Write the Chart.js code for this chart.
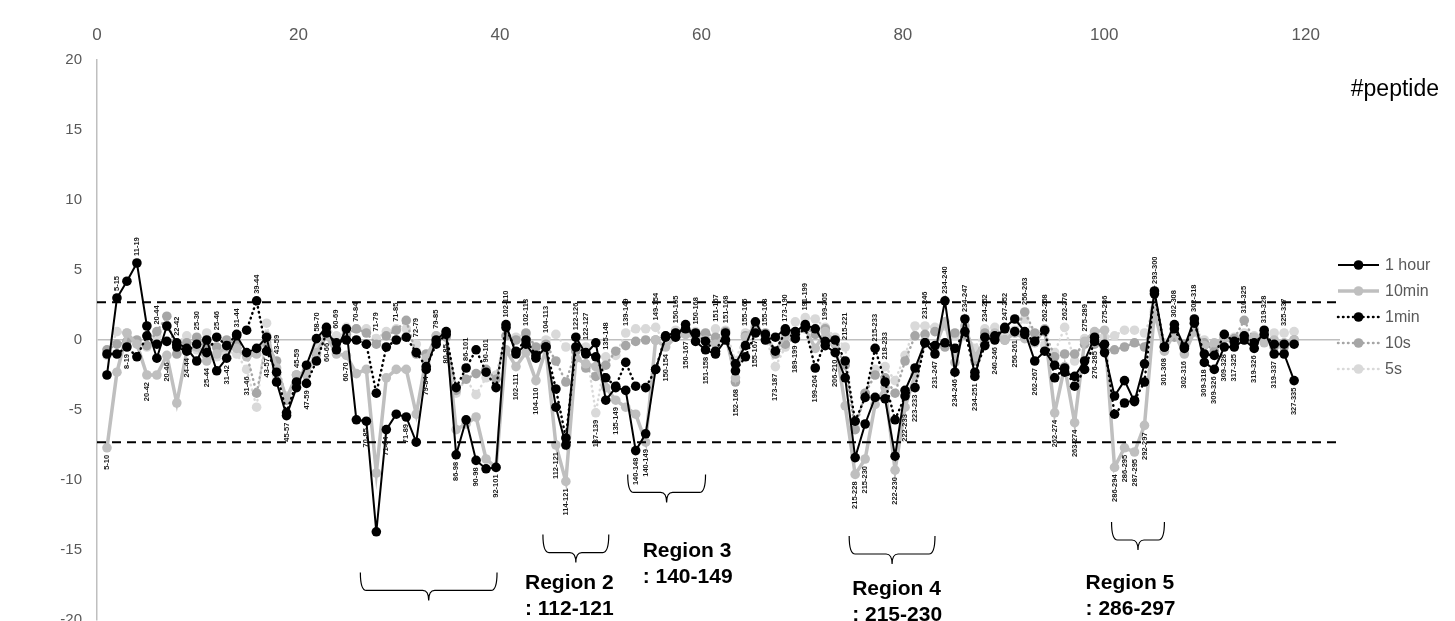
<!DOCTYPE html>
<html>
<head>
<meta charset="utf-8">
<script src="https://cdn.jsdelivr.net/npm/chart.js@4.4.0/dist/chart.umd.min.js"></script>
<style>
  html, body { margin: 0; padding: 0; background: #fff; overflow: hidden; }
  #wrap { width: 1455px; height: 621px; overflow: hidden; }
</style>
</head>
<body>
<div id="wrap"><canvas id="chart" width="1455" height="644"></canvas></div>
<script>
// peptide for each position along the sequence
const peptides = [
  '5-10','5-15','8-19','11-19','20-42','20-44','20-46','22-42','24-44','25-30',
  '25-44','25-46','31-42','31-44','31-46','39-44','43-57','43-59','45-57','45-59',
  '47-59','58-70','60-66','60-69','60-70','70-84','70-85','71-79','71-84','71-85',
  '71-89','72-79','79-84','79-85','80-85','86-98','86-101','90-98','90-101','92-101',
  '102-110','102-111','102-113','104-110','104-113','112-121','114-121','122-126','122-127','137-139',
  '135-148','135-149','139-149','140-148','140-149','149-154','150-154','150-165','150-167','150-168',
  '151-158','151-167','151-168','152-168','155-165','155-167','155-168','173-187','173-190','189-199',
  '191-199','199-204','199-205','206-210','215-221','215-228','215-230','215-233','218-233','222-230',
  '222-233','223-233','231-246','231-247','234-240','234-246','234-247','234-251','234-252','240-246',
  '247-252','256-261','256-263','262-267','262-268','262-274','262-276','263-274','275-289','276-285',
  '275-286','286-294','286-295','287-295','292-297','293-300','301-308','302-308','302-316','302-318',
  '309-318','309-326','309-328','317-325','310-325','319-326','319-328','319-337','325-337','327-335'
];
// a = label above the points, b = below
const labelSide =
  'bababababa' + 'bababababa' + 'bababababa' + 'bababbabab' + 'abababbaab' +
  'ababbababa' + 'baabababab' + 'abababbaab' + 'bbabababab' + 'ababababab' +
  'abbbbababa' + 'bbbbababab';

const hour1 = [
  -2.5,3.0,4.2,5.5,1.0,-1.3,1.0,-0.2,-0.6,-1.5,
  0.0,-2.2,-1.3,0.3,-0.9,-0.6,0.2,-3.0,-5.4,-3.4,
  -1.8,0.1,0.9,-0.7,0.8,-5.7,-5.8,-13.7,-6.4,-5.3,
  -5.5,-7.3,-2.1,0.0,0.6,-8.2,-5.7,-8.6,-9.2,-9.1,
  1.1,-1.0,-0.3,-1.3,-0.5,-4.8,-7.5,0.2,-1.0,-0.2,
  -4.3,-3.4,-3.6,-7.9,-6.7,-2.1,0.2,0.2,1.1,-0.1,
  -0.7,-1.0,0.0,-1.7,-0.4,1.3,0.0,0.2,0.8,0.6,
  1.1,0.8,-0.4,-0.9,-2.7,-8.4,-6.0,-4.1,-4.2,-8.3,
  -3.6,-2.0,-0.2,-1.0,2.8,-2.3,1.5,-2.6,0.2,0.0,
  0.9,1.5,0.6,-1.5,-0.8,-1.8,-2.3,-2.6,-1.5,0.2,
  -0.9,-4.0,-2.9,-4.4,-1.7,3.5,-0.5,1.1,-0.5,1.5,
  -1.6,-2.1,-0.5,-0.5,0.0,-0.6,0.7,-1.0,-1.0,-2.9
];
const min10 = [
  -7.7,-2.3,0.5,-0.3,-2.5,-2.5,-1.1,-4.5,-0.8,-0.5,
  -1.5,-1.0,-0.5,-0.6,-1.2,-1.0,0.3,-2.0,-4.2,-2.5,
  -2.5,-0.9,0.3,-1.0,-1.1,-2.4,-2.1,-9.5,-2.7,-2.1,
  -2.1,-5.3,-1.3,0.3,0.4,-6.4,-6.0,-5.5,-8.5,-9.1,
  -0.7,-1.9,-0.9,-2.9,-0.7,-7.5,-10.1,-1.3,-1.7,-1.9,
  -3.4,-4.3,-4.8,-5.3,-7.3,0.0,-0.5,0.2,0.4,0.2,
  0.0,-0.3,0.4,-2.7,0.2,1.0,0.3,-0.8,0.3,0.5,
  0.8,-0.6,0.6,-0.2,-4.7,-9.6,-8.5,-4.6,-3.4,-9.3,
  -4.8,-2.5,-0.1,-0.5,1.3,-1.6,1.0,-1.2,-0.1,0.5,
  0.0,0.5,0.1,-0.2,0.8,-5.2,-1.9,-5.9,-0.1,0.6,
  0.7,-9.1,-7.7,-8.0,-6.1,2.0,-0.8,0.5,-1.0,0.6,
  -0.4,-0.2,0.1,-0.2,0.3,0.2,-0.2,0.0,-0.2,0.0
];
const min1 = [
  -1.0,-1.0,-0.5,-1.2,0.3,-0.3,-0.1,-0.5,-0.8,-0.3,
  -0.9,0.2,-0.4,0.4,0.7,2.8,-0.8,-2.3,-5.2,-3.0,
  -3.1,-1.5,0.5,-0.2,0.0,0.0,-0.3,-3.8,-0.5,0.0,
  0.2,-0.9,-1.9,-0.3,0.4,-3.4,-2.0,-0.7,-2.3,-3.4,
  0.9,-0.8,0.0,-1.1,-0.5,-3.5,-7.0,-0.5,-0.9,-1.2,
  -2.7,-3.3,-1.6,-3.3,-3.4,-2.1,0.3,0.5,0.8,0.5,
  -0.1,-0.8,0.5,-2.2,-1.2,0.5,0.4,-0.8,0.6,0.1,
  0.9,-2.0,-0.1,0.0,-1.5,-5.8,-4.1,-0.6,-3.0,-5.7,
  -4.0,-3.4,-0.2,-0.4,-0.2,-0.6,0.6,-2.3,-0.4,0.3,
  0.8,0.6,0.4,-0.1,0.7,-2.7,-2.0,-3.3,-2.1,-0.1,
  -0.3,-5.3,-4.5,-4.3,-3.0,3.3,-0.5,0.8,-0.6,1.2,
  -1.0,-1.1,0.4,-0.1,0.3,-0.2,0.4,-0.3,-0.3,-0.3
];
const sec10 = [
  -0.7,-0.3,-0.1,0.0,-0.4,0.6,1.7,-1.0,-0.2,0.2,
  -0.3,-0.5,0.0,-0.3,-1.0,-3.8,-0.2,-1.5,-4.3,-2.5,
  -2.2,-1.0,0.6,-0.5,0.4,0.8,0.5,-0.3,0.3,0.7,
  1.4,-1.0,-1.0,-0.1,0.2,-3.6,-2.8,-2.4,-2.1,-2.8,
  0.3,0.0,0.5,-0.5,-0.3,-1.5,-3.0,-0.8,-2.0,-2.6,
  -1.8,-0.8,-0.4,-0.1,0.0,0.0,0.3,0.5,0.5,0.3,
  0.5,0.2,0.6,-3.0,0.3,0.9,0.5,-1.0,-0.3,0.2,
  0.9,0.4,0.8,-0.3,-1.8,-6.4,-3.8,-2.5,-2.7,-3.8,
  -1.5,0.3,0.4,0.6,-0.5,0.5,0.4,-1.5,0.5,0.3,
  0.0,0.6,2.0,0.5,0.6,-1.2,-1.0,-1.0,-0.3,-0.3,
  -0.7,-0.7,-0.5,-0.2,-0.5,1.8,-0.4,0.2,-0.3,0.6,
  -0.2,-0.8,0.2,0.1,1.4,0.0,0.3,-0.5,-0.5,0.0
];
const sec5 = [
  -1.1,0.6,0.5,-0.2,-0.5,0.3,1.0,-0.2,0.3,-0.7,
  0.5,-1.2,-0.8,-1.0,-2.1,-4.8,1.2,-2.5,-4.0,-3.2,
  -2.3,-0.5,0.9,0.3,0.9,0.8,0.8,0.1,0.6,0.8,
  0.8,-0.3,-1.5,0.3,0.6,-3.8,-2.8,-3.9,-2.7,-2.5,
  0.3,0.2,0.4,-0.6,0.0,0.4,-0.5,-0.8,-0.5,-5.2,
  -1.2,-1.1,0.5,0.8,0.8,0.9,-0.3,0.7,0.4,0.6,
  0.1,0.8,0.7,-1.5,0.5,0.6,0.3,-1.9,-0.5,1.3,
  1.6,1.5,0.9,0.2,-0.5,-6.3,-3.8,-2.1,-1.9,-2.9,
  -1.1,1.0,1.0,0.9,1.0,0.3,0.7,-0.6,0.8,0.9,
  0.4,0.7,1.5,0.4,-0.4,-0.9,0.9,-1.5,0.1,0.5,
  0.2,0.3,0.7,0.7,0.5,2.2,-0.2,0.5,-0.6,0.8,
  0.0,-0.5,0.4,0.2,0.5,0.3,0.2,0.5,0.5,0.6
];
// cut-off lines
const thresholds = [2.7, -7.3];

const FONT = '"Liberation Sans", Arial, sans-serif';
const X_MAX = 124.6;   // data axis (one unit per peptide)
const X_TOP_MAX = 123.4;

// bracket + text for each region (data units)
const brackets = [
  { from: 26.4, to: 40.1, top: -16.6 },
  { from: 44.7, to: 51.3, top: -13.9 },
  { from: 53.2, to: 61.0, top: -9.6 },
  { from: 75.4, to: 84.0, top: -14.0 },
  { from: 101.7, to: 107.0, top: -13.0 }
];
const regionText = [
  { x: 42.9, y: -17.4, lines: ['Region 2', ': 112-121'] },
  { x: 54.7, y: -15.1, lines: ['Region 3', ': 140-149'] },
  { x: 75.7, y: -17.8, lines: ['Region 4', ': 215-230'] },
  { x: 99.1, y: -17.4, lines: ['Region 5', ': 286-297'] }
];

function toPoints(arr) {
  return arr.map((v, i) => ({ x: i + 1, y: v }));
}

const seriesDefs = [
  { label: '1 hour', data: hour1, color: '#000000', width: 2, dash: [], order: 1 },
  { label: '10min', data: min10, color: '#bfbfbf', width: 3.5, dash: [], order: 3 },
  { label: '1min', data: min1, color: '#000000', width: 2.5, dash: [0.5, 4.5], order: 2 },
  { label: '10s', data: sec10, color: '#a6a6a6', width: 2.5, dash: [0.5, 4.5], order: 4 },
  { label: '5s', data: sec5, color: '#d9d9d9', width: 2.5, dash: [0.5, 4.5], order: 5 }
];

const datasets = seriesDefs.map(s => ({
  label: s.label,
  data: toPoints(s.data),
  borderColor: s.color,
  backgroundColor: s.color,
  borderWidth: s.width,
  borderDash: s.dash,
  borderCapStyle: s.dash.length ? 'round' : 'butt',
  pointRadius: 4.8,
  pointBorderWidth: 0,
  pointBackgroundColor: s.color,
  tension: 0,
  order: s.order
}));

thresholds.forEach(t => {
  datasets.push({
    label: 'cut ' + t,
    data: [{ x: 0, y: t }, { x: X_MAX, y: t }],
    borderColor: '#000000',
    borderWidth: 2,
    borderDash: [9, 6],
    pointRadius: 0,
    order: 0
  });
});

// rotated peptide labels above / below each position
const peptideLabels = {
  id: 'peptideLabels',
  afterDatasetsDraw(chart) {
    const ctx = chart.ctx;
    const xs = chart.scales.x, ys = chart.scales.y;
    ctx.save();
    ctx.font = 'bold 7.5px ' + FONT;
    ctx.fillStyle = '#1a1a1a';
    ctx.textBaseline = 'middle';
    peptides.forEach((p, i) => {
      const vals = seriesDefs.map(s => s.data[i]);
      const px = xs.getPixelForValue(i + 1);
      ctx.save();
      if (labelSide[i] === 'a') {
        const py = ys.getPixelForValue(Math.max(...vals)) - 7;
        ctx.translate(px, py);
        ctx.rotate(-Math.PI / 2);
        ctx.textAlign = 'left';
      } else {
        const py = ys.getPixelForValue(Math.min(...vals)) + 7;
        ctx.translate(px, py);
        ctx.rotate(-Math.PI / 2);
        ctx.textAlign = 'right';
      }
      ctx.fillText(p, 0, 0);
      ctx.restore();
    });
    ctx.restore();
  }
};

// brackets, region text, legend and "#peptide"
const extras = {
  id: 'extras',
  afterDraw(chart) {
    const ctx = chart.ctx;
    const xs = chart.scales.x, ys = chart.scales.y;
    const area = chart.chartArea;
    ctx.save();

    ctx.strokeStyle = '#000';
    ctx.lineWidth = 1.2;
    brackets.forEach(b => {
      const x0 = xs.getPixelForValue(b.from), x1 = xs.getPixelForValue(b.to);
      const top = ys.getPixelForValue(b.top);
      const bar = top + 18, tip = bar + 10, mid = (x0 + x1) / 2, r = 6;
      ctx.beginPath();
      ctx.moveTo(x0, top);
      ctx.quadraticCurveTo(x0, bar, x0 + r, bar);
      ctx.lineTo(mid - r, bar);
      ctx.quadraticCurveTo(mid, bar, mid, tip);
      ctx.quadraticCurveTo(mid, bar, mid + r, bar);
      ctx.lineTo(x1 - r, bar);
      ctx.quadraticCurveTo(x1, bar, x1, top);
      ctx.stroke();
    });

    ctx.fillStyle = '#000';
    ctx.font = 'bold 21px ' + FONT;
    ctx.textAlign = 'left';
    ctx.textBaseline = 'middle';
    regionText.forEach(t => {
      const x = xs.getPixelForValue(t.x), y = ys.getPixelForValue(t.y);
      ctx.fillText(t.lines[0], x, y);
      ctx.fillText(t.lines[1], x, y + 26);
    });

    // legend
    const lx = area.right - 2;
    let ly = 265;
    seriesDefs.forEach(s => {
      ctx.beginPath();
      ctx.strokeStyle = s.color;
      ctx.lineWidth = s.width;
      ctx.setLineDash(s.dash);
      ctx.lineCap = s.dash.length ? 'round' : 'butt';
      ctx.moveTo(lx, ly);
      ctx.lineTo(lx + 41, ly);
      ctx.stroke();
      ctx.setLineDash([]);
      ctx.beginPath();
      ctx.fillStyle = s.color;
      ctx.arc(lx + 20.5, ly, 4.8, 0, Math.PI * 2);
      ctx.fill();
      ctx.fillStyle = '#595959';
      ctx.font = '16px ' + FONT;
      ctx.fillText(s.label, lx + 47, ly + 1);
      ly += 26;
    });

    ctx.fillStyle = '#000';
    ctx.font = '23px ' + FONT;
    ctx.textAlign = 'right';
    ctx.fillText('#peptide', 1439, 90);
    ctx.restore();
  }
};

new Chart(document.getElementById('chart'), {
  type: 'line',
  data: { datasets: datasets },
  options: {
    responsive: false,
    animation: false,
    devicePixelRatio: 1,
    layout: { padding: { left: 0, right: 115, top: 0, bottom: 2 } },
    plugins: { legend: { display: false }, tooltip: { enabled: false } },
    scales: {
      x: { type: 'linear', display: false, min: 0, max: X_MAX },
      xTop: {
        type: 'linear', position: 'top', min: 0, max: X_TOP_MAX,
        grid: { display: false, drawTicks: false },
        border: { display: false },
        ticks: { stepSize: 20, includeBounds: false, padding: 14, color: '#595959', font: { family: FONT, size: 17 } },
        afterFit: s => { s.height = 60; }
      },
      y: {
        min: -20, max: 20,
        ticks: { stepSize: 5, padding: 15, color: '#595959', font: { family: FONT, size: 15 } },
        grid: {
          drawTicks: false,
          color: c => (c.tick && c.tick.value === 0 ? '#bfbfbf' : 'rgba(0,0,0,0)'),
          lineWidth: 1.5
        },
        border: { display: true, color: '#bfbfbf', width: 1.5 },
        afterFit: s => { s.width = 97; }
      }
    }
  },
  plugins: [peptideLabels, extras]
});
</script>
</body>
</html>
